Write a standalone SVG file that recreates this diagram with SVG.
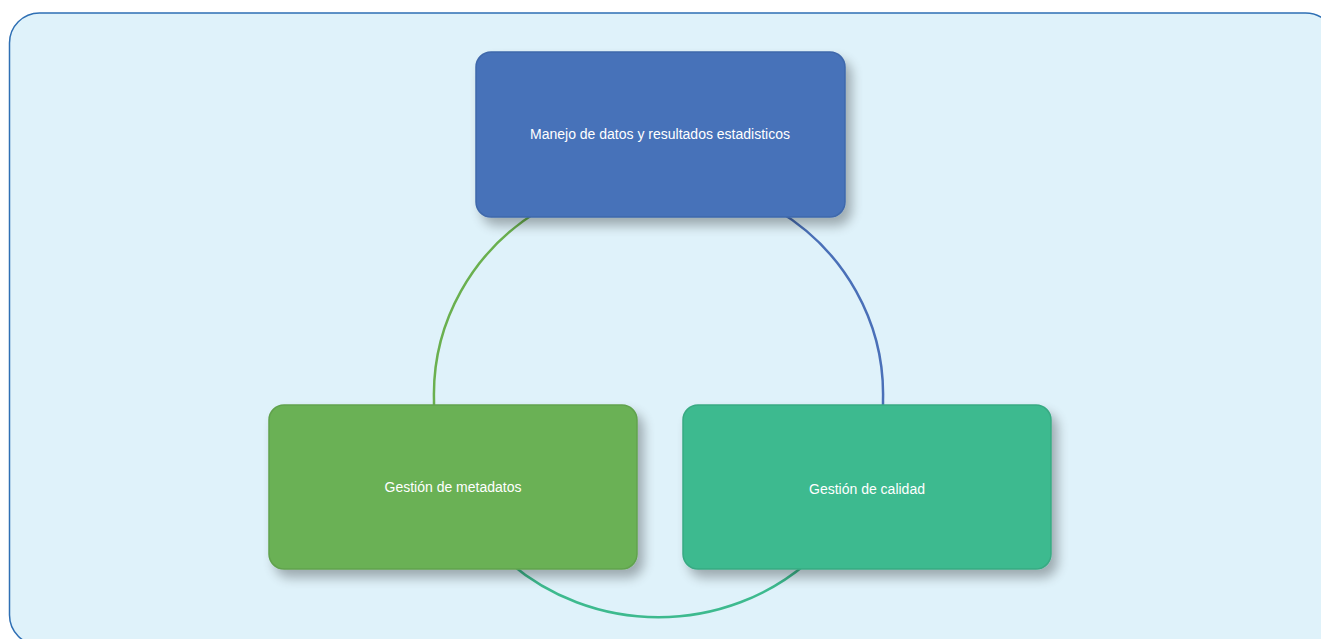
<svg xmlns="http://www.w3.org/2000/svg" width="1321" height="639" viewBox="0 0 1321 639">
<style>
.lbl{font-family:"Liberation Sans",Arial,sans-serif;font-size:14px;fill:#ffffff;text-anchor:middle}
.arc{fill:none;stroke-width:2.5}
.box{stroke-width:1.5}
</style>
<defs>
<filter id="sh" x="-20%" y="-20%" width="150%" height="160%">
<feGaussianBlur in="SourceAlpha" stdDeviation="6"/>
<feOffset dx="6" dy="8" result="b"/>
<feComponentTransfer><feFuncA type="linear" slope="0.3"/></feComponentTransfer>
<feMerge><feMergeNode/><feMergeNode in="SourceGraphic"/></feMerge>
</filter>
</defs>
<rect x="9.5" y="13" width="1326" height="632" rx="30" fill="#dff2fa" stroke="#2e6fb4" stroke-width="1.5"/>
<g id="connectors">
<path class="arc" stroke="#6ab04f" d="M 540 210 A 224.5 217 0 0 0 434 400 L 434 410"/>
<path class="arc" stroke="#4a70b8" d="M 777 210 A 224.5 217 0 0 1 883 400 L 883 410"/>
<path class="arc" stroke="#3dba8e" d="M 510 563 A 224.5 217 0 0 0 807 563"/>
</g>
<g id="node-top">
<rect class="box" x="476" y="52" width="369" height="165" rx="15" fill="#4672b9" stroke="#3f68ab" filter="url(#sh)"/>
<text class="lbl" x="660" y="139">Manejo de datos y resultados estadisticos</text>
</g>
<g id="node-left">
<rect class="box" x="269" y="405" width="368" height="164" rx="15" fill="#6ab154" stroke="#61a24d" filter="url(#sh)"/>
<text class="lbl" x="453" y="492">Gestión de metadatos</text>
</g>
<g id="node-right">
<rect class="box" x="683" y="405" width="368" height="164" rx="15" fill="#3dba8f" stroke="#38aa83" filter="url(#sh)"/>
<text class="lbl" x="867" y="494">Gestión de calidad</text>
</g>
</svg>
